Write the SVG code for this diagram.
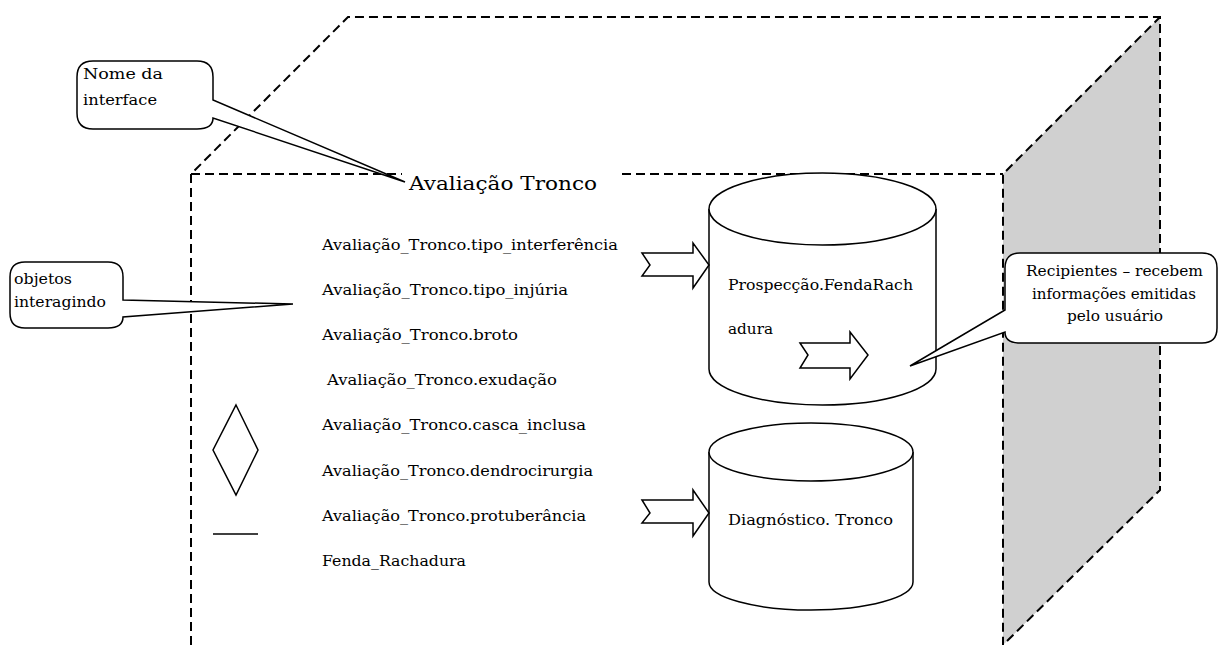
<svg xmlns="http://www.w3.org/2000/svg" width="1220" height="645" viewBox="0 0 1220 645">
<style>
.dash{fill:none;stroke:#000;stroke-width:2;stroke-dasharray:9 5}
.sh{fill:#fff;stroke:#000;stroke-width:1.5}
.t{font-size:14.5px}
.tt{font-size:18.5px}
</style>
<rect width="1220" height="645" fill="#fff"/>
<g font-family="DejaVu Serif, Liberation Serif, Noto Serif, serif" fill="#000">
<g id="box">
<polygon points="1003,174 1160,17 1160,490 1003,645" fill="#d0d0d0"/>
<path class="dash" d="M191,645 V174 L348,17 H1160 V490 L1003,645 V174 L1160,17"/>
<path class="dash" d="M191,174 H402 M622,174 H1003"/>
</g>
<g id="title"><text class="tt" x="409" y="190" textLength="188" lengthAdjust="spacingAndGlyphs">Avaliação Tronco</text></g>
<g id="callout-nome">
<path class="sh" d="M213,100 V77 Q213,61 197,61 H93 Q77,61 77,77 V113 Q77,129 93,129 H197 Q213,129 213,118 L405,182 Z"/>
<text class="t" x="83" y="79" textLength="80" lengthAdjust="spacingAndGlyphs">Nome da</text>
<text class="t" x="83" y="105" textLength="74" lengthAdjust="spacingAndGlyphs">interface</text>
</g>
<g id="callout-objetos">
<path class="sh" d="M123,300 V277 Q123,262 108,262 H25 Q10,262 10,277 V313 Q10,328 25,328 H108 Q123,328 123,317 L293,304 Z"/>
<text class="t" x="14" y="284" textLength="58" lengthAdjust="spacingAndGlyphs">objetos</text>
<text class="t" x="14" y="307" textLength="92" lengthAdjust="spacingAndGlyphs">interagindo</text>
</g>
<g id="list">
<text class="t" x="322" y="250" textLength="296" lengthAdjust="spacingAndGlyphs">Avaliação_Tronco.tipo_interferência</text>
<text class="t" x="322" y="295" textLength="246" lengthAdjust="spacingAndGlyphs">Avaliação_Tronco.tipo_injúria</text>
<text class="t" x="322" y="340" textLength="196" lengthAdjust="spacingAndGlyphs">Avaliação_Tronco.broto</text>
<text class="t" x="327" y="385" textLength="230" lengthAdjust="spacingAndGlyphs">Avaliação_Tronco.exudação</text>
<text class="t" x="322" y="430" textLength="264" lengthAdjust="spacingAndGlyphs">Avaliação_Tronco.casca_inclusa</text>
<text class="t" x="322" y="476" textLength="271" lengthAdjust="spacingAndGlyphs">Avaliação_Tronco.dendrocirurgia</text>
<text class="t" x="322" y="521" textLength="264" lengthAdjust="spacingAndGlyphs">Avaliação_Tronco.protuberância</text>
<text class="t" x="322" y="566" textLength="144" lengthAdjust="spacingAndGlyphs">Fenda_Rachadura</text>
</g>
<g id="diamond"><polygon class="sh" points="236,405 258,450 236,495 213,450"/></g>
<g id="line"><line x1="213" y1="534" x2="258" y2="534" stroke="#000" stroke-width="1.5"/></g>
<g id="cyl1">
<path class="sh" d="M709,209 V369 A113.5,36 0 0 0 936,369 V209"/>
<ellipse class="sh" cx="822.5" cy="209" rx="113.5" ry="36"/>
<text class="t" x="728" y="290" textLength="185" lengthAdjust="spacingAndGlyphs">Prospecção.FendaRach</text>
<text class="t" x="728" y="334" textLength="45" lengthAdjust="spacingAndGlyphs">adura</text>
</g>
<g id="cyl2">
<path class="sh" d="M709,452 V582 A102,28 0 0 0 913,582 V452"/>
<ellipse class="sh" cx="811" cy="452" rx="102" ry="29"/>
<text class="t" x="728" y="525" textLength="165" lengthAdjust="spacingAndGlyphs">Diagnóstico. Tronco</text>
</g>
<g id="connectors">
<polygon class="sh" points="642,253 650,265 642,276 693,276 693,288 709,265 693,243 693,253"/>
<polygon class="sh" points="642,500 650,513 642,523 693,523 693,536 709,513 693,490 693,500"/>
<polygon class="sh" points="800,343 808,355 800,368 850,368 850,379 868,355 850,332 850,343"/>
</g>
<g id="callout-recipientes">
<path class="sh" d="M1005,310 V268 Q1005,253 1020,253 H1202 Q1217,253 1217,268 V328 Q1217,343 1202,343 H1020 Q1005,343 1005,332 L910,366 Z"/>
<text class="t" x="1026" y="276" textLength="177" lengthAdjust="spacingAndGlyphs">Recipientes – recebem</text>
<text class="t" x="1032" y="299" textLength="164" lengthAdjust="spacingAndGlyphs">informações emitidas</text>
<text class="t" x="1067" y="321" textLength="96" lengthAdjust="spacingAndGlyphs">pelo usuário</text>
</g>
</g>
</svg>
